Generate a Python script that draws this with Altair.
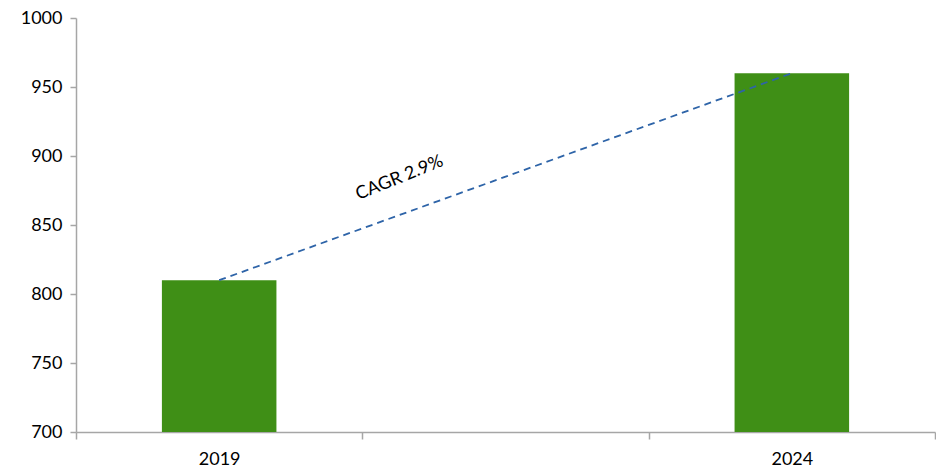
import altair as alt
import pandas as pd

years = ["2019", "mid", "2024"]
bar_years = ["2019", "2024"]
values = [810, 960]
cagr_label = "CAGR 2.9%"
cagr_y = 884

bars_df = pd.DataFrame({"year": bar_years, "value": values})
text_df = pd.DataFrame({"year": ["mid"], "value": [cagr_y], "label": [cagr_label]})

FONT = "Lato"
GREY = "#A6A6A6"

x_enc = alt.X(
    "year:N",
    scale=alt.Scale(domain=years, paddingInner=0, paddingOuter=0),
    axis=alt.Axis(
        title=None,
        labelExpr="datum.value == 'mid' ? '' : datum.value",
        labelAngle=0,
        labelFont=FONT,
        labelFontSize=18,
        labelColor="#000000",
        labelPadding=11,
        tickBand="extent",
        tickColor=GREY,
        tickSize=7,
        domainColor=GREY,
        domainWidth=1.5,
        tickWidth=1.5,
        grid=False,
    ),
)

y_enc = alt.Y(
    "value:Q",
    scale=alt.Scale(domain=[700, 1000], nice=False, zero=False),
    axis=alt.Axis(
        title=None,
        values=[700, 750, 800, 850, 900, 950, 1000],
        format="d",
        labelFont=FONT,
        labelFontSize=18,
        labelColor="#000000",
        labelPadding=8,
        tickColor=GREY,
        tickSize=6,
        tickWidth=1.5,
        domainColor=GREY,
        domainWidth=1.5,
        grid=False,
    ),
)

bars = alt.Chart(bars_df).mark_bar(color="#3F8F16", width={"band": 0.4}).encode(
    x=x_enc, y=y_enc, y2=alt.datum(700)
)

line = alt.Chart(bars_df).mark_line(
    color="#2E64A8", strokeDash=[7, 5], strokeWidth=1.8
).encode(x=alt.X("year:N", scale=alt.Scale(domain=years)), y="value:Q")

text = alt.Chart(text_df).mark_text(
    angle=338, font=FONT, fontSize=18, color="#000000", align="center", baseline="middle"
).encode(
    x=alt.X("year:N", scale=alt.Scale(domain=years), bandPosition=0.13),
    y="value:Q",
    text="label:N",
)

chart = (
    alt.layer(bars, line, text)
    .properties(
        width=859,
        height=414,
        autosize=alt.AutoSizeParams(type="none"),
        padding={"left": 76, "top": 18, "right": 1, "bottom": 40},
        view=alt.ViewBackground(stroke="transparent", strokeWidth=0),
    )
    .configure_view(strokeWidth=0, stroke="transparent")
    .configure(background="white")
)

chart.save("out.html", embed_options={"renderer": "svg", "actions": False})
